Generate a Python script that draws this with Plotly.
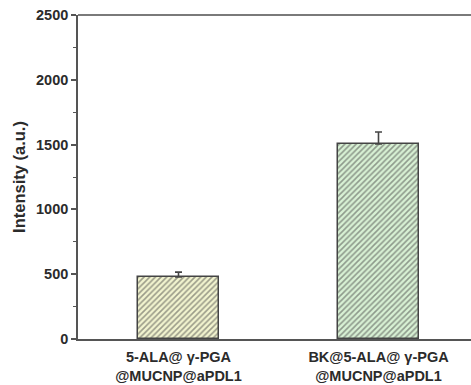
import plotly.graph_objects as go

# Fluorescence intensity of the two formulations
groups = ["5-ALA@ γ-PGA<br>@MUCNP@aPDL1", "BK@5-ALA@ γ-PGA<br>@MUCNP@aPDL1"]
intensity = [478, 1505]
error_up = [38, 92]
fill_colors = ["#f2f4cf", "#d8f1d4"]
hatch_colors = ["#cdd18e", "#a2d7a2"]
y_ticks = [0, 500, 1000, 1500, 2000, 2500]

FONT = "Liberation Sans, Arial, sans-serif"

fig = go.Figure()
fig.add_trace(go.Bar(
    x=[0, 1],
    y=intensity,
    width=0.405,
    marker=dict(
        color=fill_colors,
        line=dict(color="#444444", width=1.5),
        pattern=dict(shape="/", fgcolor=hatch_colors, bgcolor=fill_colors,
                     size=4, solidity=0.4),
    ),
    error_y=dict(type="data", symmetric=False, array=error_up,
                 arrayminus=[0, 0], color="#444444", thickness=1.6, width=3.5),
))

fig.update_layout(
    width=471, height=385,
    margin=dict(l=78, r=0, t=15, b=46),
    paper_bgcolor="white", plot_bgcolor="white",
    font=dict(family=FONT, color="#2b2b2b"),
    showlegend=False,
    bargap=0,
)
fig.update_xaxes(
    range=[-0.5025, 1.4625],
    tickvals=[0, 1], ticktext=groups,
    tickfont=dict(size=14.5, family=FONT, weight="bold"),
    ticklabelstandoff=4,
    showline=True, linecolor="#555555", linewidth=1.6,
    ticks="", showgrid=False, zeroline=False,
)
fig.update_yaxes(
    range=[0, 2500],
    tickvals=y_ticks,
    tickfont=dict(size=14.5, family=FONT, weight="bold"),
    title=dict(text="Intensity (a.u.)", standoff=6,
               font=dict(size=16.5, family=FONT, weight="bold")),
    showline=True, linecolor="#555555", linewidth=1.6,
    ticks="outside", ticklen=5, tickwidth=1.5, tickcolor="#555555",
    minor=dict(dtick=250, ticks="outside", ticklen=3, tickwidth=1.2, tickcolor="#555555"),
    showgrid=False, zeroline=False,
)
# frame line along the top of the plot area
fig.add_shape(type="line", xref="paper", yref="paper", x0=0, x1=1, y0=1, y1=1,
              line=dict(color="#7a7a7a", width=2))

fig.write_html("out.html")
